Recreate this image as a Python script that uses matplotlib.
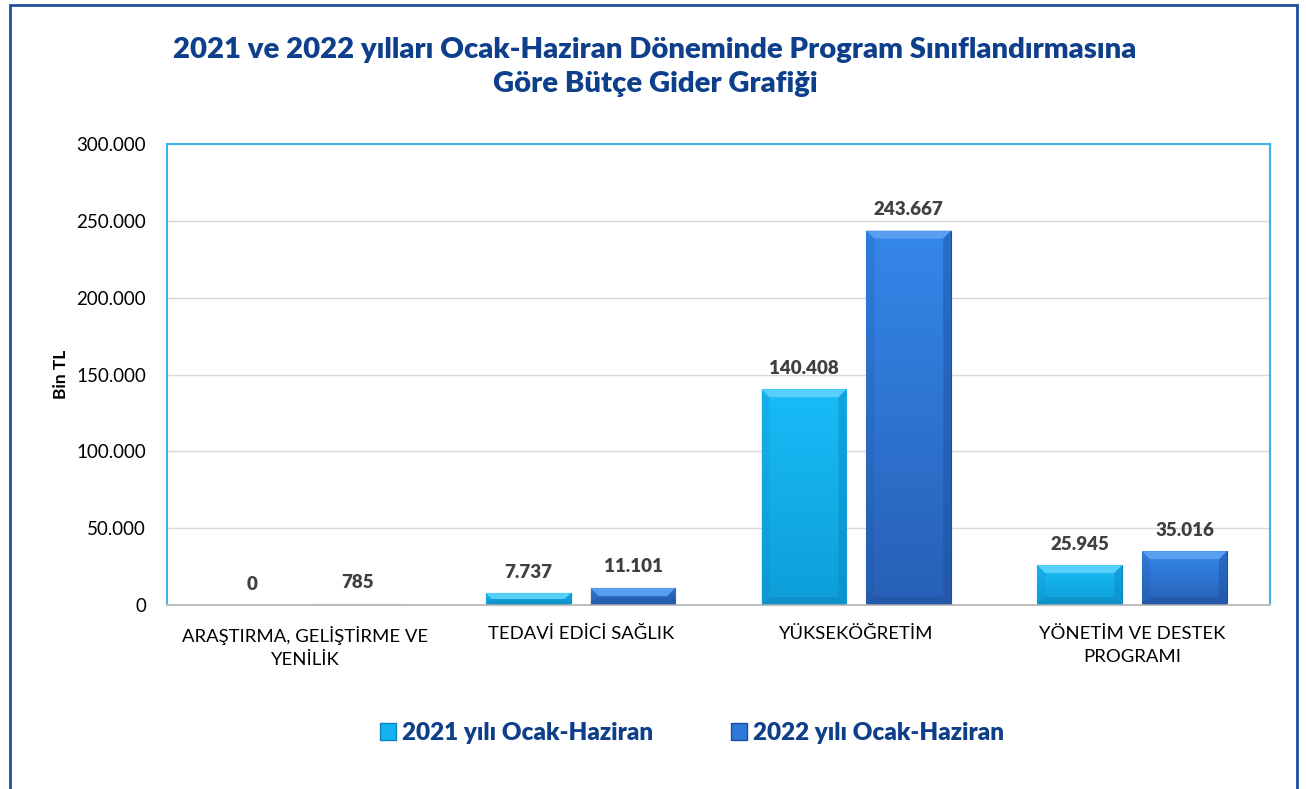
import matplotlib
matplotlib.use("Agg")
import matplotlib.pyplot as plt
from matplotlib.patches import Rectangle, Polygon
from matplotlib.transforms import IdentityTransform
from matplotlib.ticker import FuncFormatter
from matplotlib.colors import LinearSegmentedColormap
import numpy as np

plt.rcParams['font.family'] = ['Lato', 'DejaVu Sans']

categories = ["ARAŞTIRMA, GELİŞTİRME VE\nYENİLİK", "TEDAVİ EDİCİ SAĞLIK",
              "YÜKSEKÖĞRETİM", "YÖNETİM VE DESTEK\nPROGRAMI"]
series_names = ["2021 yılı Ocak-Haziran", "2022 yılı Ocak-Haziran"]
values_2021 = [0, 7737, 140408, 25945]
values_2022 = [785, 11101, 243667, 35016]
yticks = [0, 50000, 100000, 150000, 200000, 250000, 300000]
title = "2021 ve 2022 yılları Ocak-Haziran Döneminde Program Sınıflandırmasına\nGöre Bütçe Gider Grafiği"
ylabel = "Bin TL"

W, H = 1306, 789
fig = plt.figure(figsize=(W / 100, H / 100), dpi=100)
fig.patch.set_facecolor("white")

# outer border
fig.patches.append(Rectangle((10 / W, -0.02), 1287 / W, (H - 5) / H + 0.02,
                             transform=fig.transFigure, fill=False,
                             edgecolor="#1F4E9A", lw=2))

ax = fig.add_axes([167 / W, (H - 605) / H, (1270 - 167) / W, (605 - 144) / H])
ax.set_xlim(-0.5, 3.5)
ax.set_ylim(0, 300000)

x = np.arange(len(categories))
bw = 0.308
off = 0.19
styles = [
    dict(face="#14B2F2", top="#18BCF8", bottom_c="#0E9ED8", light="#62D4FB",
         dark="#0C86C0", bottom="#0A78AE"),
    dict(face="#2F78DA", top="#3487EA", bottom_c="#2860B6", light="#62A3F2",
         dark="#1D4E9E", bottom="#1C4A90"),
]

ax.set_axisbelow(True)
ax.yaxis.grid(True, color="#D9D9D9", lw=1)
for sp in ["left", "top", "right"]:
    ax.spines[sp].set_color("#3FB3F0")
    ax.spines[sp].set_linewidth(1.5)
ax.spines["bottom"].set_color("#BFBFBF")
ax.spines["bottom"].set_linewidth(1.5)

bars_all = []
for i, (vals, st) in enumerate(zip([values_2021, values_2022], styles)):
    bars = ax.bar(x + (i * 2 - 1) * off, vals, width=bw, color=st["face"],
                  edgecolor=st["dark"], lw=0.8, zorder=2)
    cmap = LinearSegmentedColormap.from_list("g", [st["bottom_c"], st["top"]])
    grad = np.linspace(0, 1, 256).reshape(-1, 1)
    for b in bars:
        if b.get_height() <= 0:
            continue
        im = ax.imshow(grad, cmap=cmap, origin="lower", aspect="auto",
                       extent=(b.get_x(), b.get_x() + b.get_width(), 0, b.get_height()),
                       zorder=2.1)
        im.set_clip_path(b)
    bars_all.append((bars, vals, st))

ax.set_xlim(-0.5, 3.5)
ax.set_ylim(0, 300000)
ax.set_xticks(x)
ax.set_xticklabels(categories, fontsize=13.3, color="black")
ax.tick_params(axis="x", length=0, pad=15)
ax.set_yticks(yticks)
ax.yaxis.set_major_formatter(FuncFormatter(lambda v, p: f"{int(v):,}".replace(",", ".")))
ax.tick_params(axis="y", length=0, pad=15, labelsize=13.5, labelcolor="black")
for lab in ax.get_xticklabels():
    lab.set_linespacing(1.55)

ax.set_ylabel(ylabel, fontsize=12.5, fontweight="bold", labelpad=5)

fig.canvas.draw()

# bevel decoration in pixel coordinates
for bars, vals, st in bars_all:
    for b, v in zip(bars, vals):
        bb = b.get_window_extent()
        x0, y0, x1, y1 = bb.x0, bb.y0, bb.x1, bb.y1
        h = y1 - y0
        if h < 3:
            continue
        d = min(8, h / 2)
        top = Polygon([(x0, y1), (x1, y1), (x1 - d, y1 - d), (x0 + d, y1 - d)],
                      closed=True, facecolor=st["light"], edgecolor="none", alpha=0.85,
                      transform=IdentityTransform(), zorder=3)
        right = Polygon([(x1, y0), (x1, y1), (x1 - d, y1 - d), (x1 - d, y0 + d)],
                        closed=True, facecolor=st["dark"], edgecolor="none", alpha=0.45,
                        transform=IdentityTransform(), zorder=3)
        left = Polygon([(x0, y0), (x0, y1), (x0 + d, y1 - d), (x0 + d, y0 + d)],
                       closed=True, facecolor=st["dark"], edgecolor="none", alpha=0.2,
                       transform=IdentityTransform(), zorder=3)
        bot = Polygon([(x0, y0), (x1, y0), (x1 - d, y0 + d), (x0 + d, y0 + d)],
                      closed=True, facecolor=st["bottom"], edgecolor="none", alpha=0.35,
                      transform=IdentityTransform(), zorder=3)
        for p in (top, left, right, bot):
            fig.add_artist(p)

for bars, vals, st in bars_all:
    for b, v in zip(bars, vals):
        ax.annotate(f"{v:,}".replace(",", "."),
                    (b.get_x() + b.get_width() / 2, v),
                    xytext=(0, 9), textcoords="offset points",
                    ha="center", va="bottom", fontsize=13.5, fontweight="heavy",
                    color="#404040", zorder=5)

fig.text(655 / W, 1 - 67 / H, title, ha="center", va="center",
         fontsize=21.1, fontweight="heavy", color="#0E3F8A", linespacing=1.38)

handles = [Rectangle((0, 0), 1, 1, facecolor=st["face"], edgecolor=st["dark"])
           for st in styles]
leg = fig.legend(handles, series_names, loc="center", bbox_to_anchor=(692 / W, 1 - 733 / H),
                 ncol=2, frameon=False, prop=dict(size=17.5, weight="heavy"),
                 handlelength=0.65, handleheight=0.65, handletextpad=0.25,
                 columnspacing=3.2)
for t in leg.get_texts():
    t.set_color("#0E3F8A")
    t.set_fontweight("heavy")

fig.savefig("out.png", dpi=100)
